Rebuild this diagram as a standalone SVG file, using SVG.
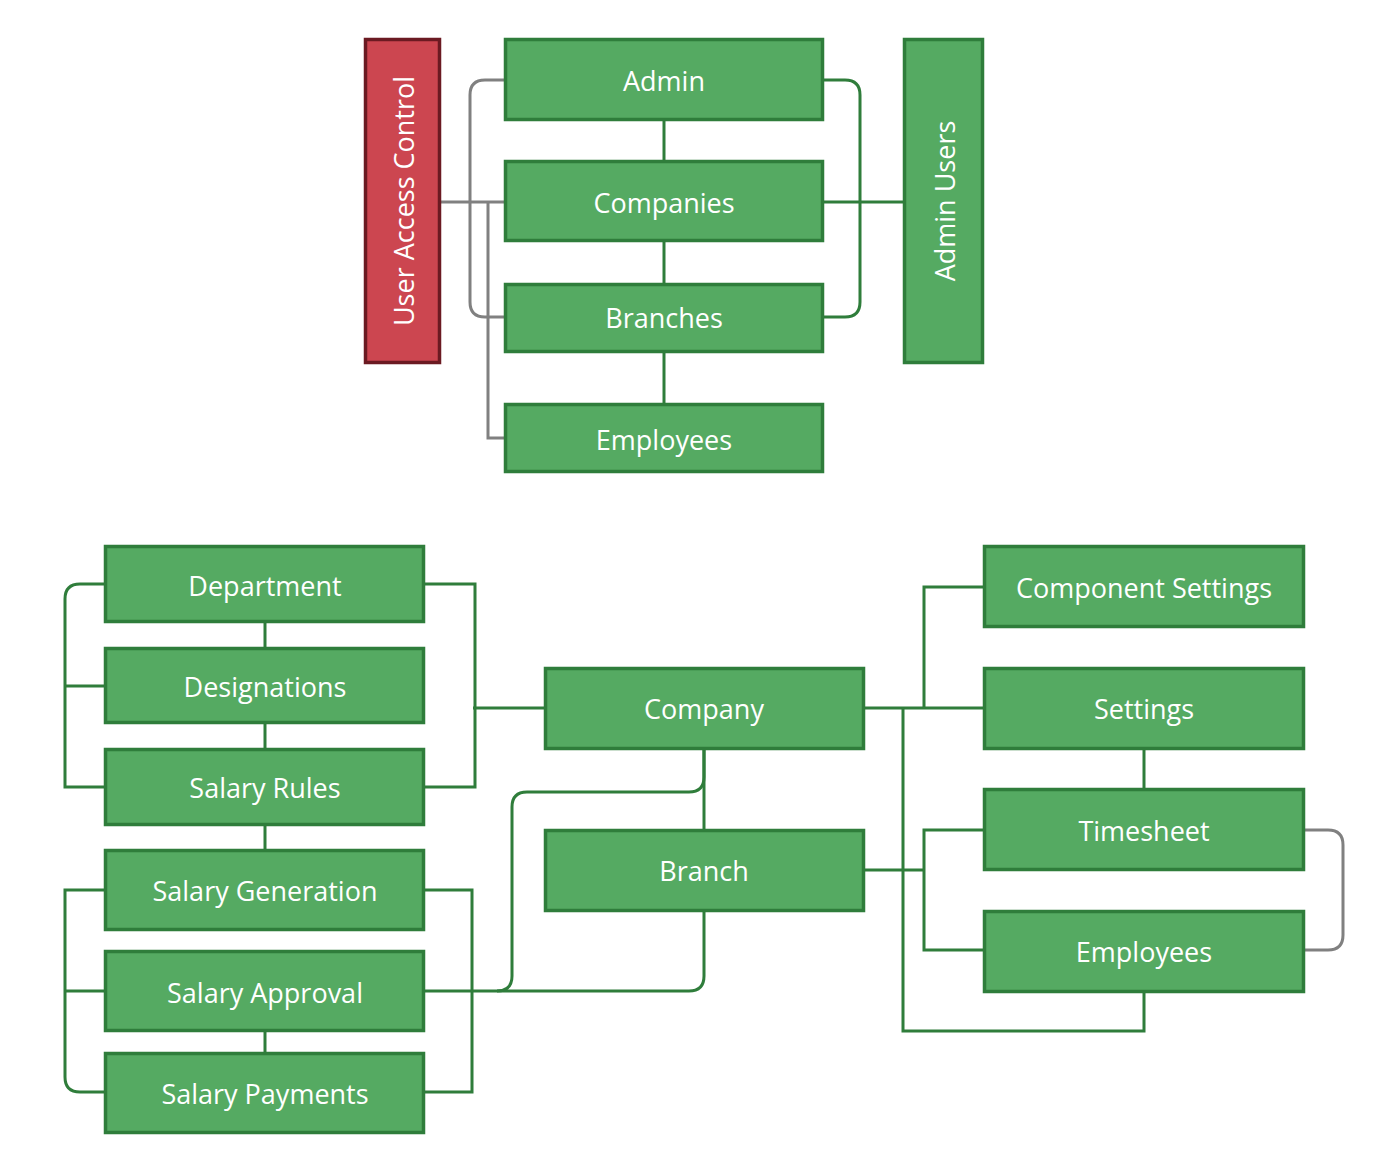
<svg xmlns="http://www.w3.org/2000/svg" width="1384" height="1160" viewBox="0 0 1384 1160">
<style>
.n rect{fill:#55AA62;stroke:#2F7D3B;stroke-width:3.5}
.r rect{fill:#CC4650;stroke:#6B1A22;stroke-width:3.5}
text{font-family:"Open Sans","Noto Sans","DejaVu Sans",sans-serif;font-size:27px;fill:#FFFFFF;text-anchor:middle;dominant-baseline:central}
.g path{fill:none;stroke:#2F7D3B;stroke-width:3}
.gy path{fill:none;stroke:#808080;stroke-width:3}
</style>
<rect width="1384" height="1160" fill="#FFFFFF"/>
<g id="connectors">
<g class="gy">
<path d="M441 202 H504"/>
<path d="M504 80 H485 Q470 80 470 95 V302 Q470 317 485 317 H504"/>
<path d="M488 202 V438 H504"/>
<path d="M1305 830 H1328 Q1343 830 1343 845 V935 Q1343 950 1328 950 H1305"/>
</g>
<g class="g">
<path d="M664 121 V160"/>
<path d="M664 242 V283"/>
<path d="M664 352 V403"/>
<path d="M824 80 H845 Q860 80 860 95 V302 Q860 317 845 317 H824"/>
<path d="M824 202 H903"/>
<path d="M265 623 V647"/>
<path d="M265 724 V748"/>
<path d="M265 826 V849"/>
<path d="M265 1032 V1052"/>
<path d="M104 584 H80 Q65 584 65 599 V787 H104"/>
<path d="M65 686 H104"/>
<path d="M104 890 H65 V1077 Q65 1092 80 1092 H104"/>
<path d="M65 991 H104"/>
<path d="M425 584 H475 V787 H425"/>
<path d="M473 708 H544"/>
<path d="M425 890 H472 V1092 H425"/>
<path d="M425 991 H689 Q704 991 704 976 V912"/>
<path d="M497 991 Q512 991 512 976 V807 Q512 792 527 792 H689 Q704 792 704 777 V750"/>
<path d="M704 750 V829"/>
<path d="M865 708 H983"/>
<path d="M924 708 V587 H983"/>
<path d="M903 708 V1031 H1144 V993"/>
<path d="M865 870 H924"/>
<path d="M983 830 H924 V950 H983"/>
<path d="M1144 750 V788"/>
</g>
</g>
<g id="uac" class="r"><rect x="365.5" y="39.5" width="74" height="323"/><text transform="translate(403 201) rotate(-90)">User Access Control</text></g>
<g id="admin" class="n"><rect x="505.5" y="39.5" width="317" height="80"/><text x="664" y="80">Admin</text></g>
<g id="companies" class="n"><rect x="505.5" y="161.5" width="317" height="79"/><text x="664" y="202">Companies</text></g>
<g id="branches" class="n"><rect x="505.5" y="284.5" width="317" height="67"/><text x="664" y="317">Branches</text></g>
<g id="employees-top" class="n"><rect x="505.5" y="404.5" width="317" height="67"/><text x="664" y="439">Employees</text></g>
<g id="admin-users" class="n"><rect x="904.5" y="39.5" width="78" height="323"/><text transform="translate(944 201) rotate(-90)">Admin Users</text></g>
<g id="department" class="n"><rect x="105.5" y="546.5" width="318" height="75"/><text x="265" y="585">Department</text></g>
<g id="designations" class="n"><rect x="105.5" y="648.5" width="318" height="74"/><text x="265" y="686">Designations</text></g>
<g id="salary-rules" class="n"><rect x="105.5" y="749.5" width="318" height="75"/><text x="265" y="787">Salary Rules</text></g>
<g id="salary-generation" class="n"><rect x="105.5" y="850.5" width="318" height="79"/><text x="265" y="890">Salary Generation</text></g>
<g id="salary-approval" class="n"><rect x="105.5" y="951.5" width="318" height="79"/><text x="265" y="992">Salary Approval</text></g>
<g id="salary-payments" class="n"><rect x="105.5" y="1053.5" width="318" height="79"/><text x="265" y="1093">Salary Payments</text></g>
<g id="company" class="n"><rect x="545.5" y="668.5" width="318" height="80"/><text x="704" y="708">Company</text></g>
<g id="branch" class="n"><rect x="545.5" y="830.5" width="318" height="80"/><text x="704" y="870">Branch</text></g>
<g id="component-settings" class="n"><rect x="984.5" y="546.5" width="319" height="80"/><text x="1144" y="587">Component Settings</text></g>
<g id="settings" class="n"><rect x="984.5" y="668.5" width="319" height="80"/><text x="1144" y="708">Settings</text></g>
<g id="timesheet" class="n"><rect x="984.5" y="789.5" width="319" height="80"/><text x="1144" y="830">Timesheet</text></g>
<g id="employees" class="n"><rect x="984.5" y="911.5" width="319" height="80"/><text x="1144" y="951">Employees</text></g>
</svg>
